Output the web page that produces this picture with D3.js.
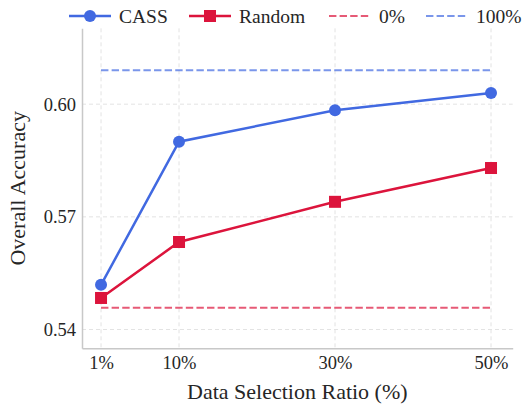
<!DOCTYPE html>
<html>
<head>
<meta charset="utf-8">
<script src="https://cdn.jsdelivr.net/npm/d3@7"></script>
<style>
  body { margin: 0; background: #fff; }
</style>
</head>
<body>
<script>
var ratioLabels = ["1%", "10%", "30%", "50%"];
var ratioPos = [0, 1, 3, 5];
var cassAcc = [0.5519, 0.5900, 0.5984, 0.6030];
var randomAcc = [0.5484, 0.5633, 0.5740, 0.5830];
var baseline0 = 0.5458;
var baseline100 = 0.6090;
var yTicks = [0.54, 0.57, 0.60];

var serif = "'Liberation Serif', 'Times New Roman', Times, serif";
var width = 524, height = 407;
var svg = d3.select("body").append("svg")
    .attr("width", width)
    .attr("height", height)
    .style("font-family", serif);

var x = d3.scaleLinear().domain([-0.244, 5.278]).range([82, 512.7]);
var y = d3.scaleLinear().domain([0.535, 0.6202]).range([348.3, 28.3]);

// grid
svg.append("g").selectAll("line.vg")
    .data(ratioPos).enter().append("line")
    .attr("x1", function (d) { return x(d); })
    .attr("x2", function (d) { return x(d); })
    .attr("y1", y.range()[1])
    .attr("y2", y.range()[0])
    .attr("stroke", "#e3e3e3")
    .attr("stroke-width", 1)
    .attr("stroke-dasharray", "4,3");

svg.append("g").selectAll("line.hg")
    .data(yTicks).enter().append("line")
    .attr("x1", x.range()[0])
    .attr("x2", x.range()[1])
    .attr("y1", function (d) { return y(d); })
    .attr("y2", function (d) { return y(d); })
    .attr("stroke", "#e3e3e3")
    .attr("stroke-width", 1)
    .attr("stroke-dasharray", "4,3");

// axes
var xAxis = svg.append("g")
    .attr("transform", "translate(0," + y.range()[0] + ")")
    .call(d3.axisBottom(x).tickValues(ratioPos)
        .tickFormat(function (d, i) { return ratioLabels[i]; })
        .tickSize(0).tickPadding(8));
var yAxis = svg.append("g")
    .attr("transform", "translate(" + x.range()[0] + ",0)")
    .call(d3.axisLeft(y).tickValues(yTicks)
        .tickFormat(d3.format(".2f"))
        .tickSize(0).tickPadding(6));

[xAxis, yAxis].forEach(function (a) {
  a.attr("font-family", null).attr("font-size", null);
  a.select(".domain").attr("stroke", "#c8c8c8").attr("stroke-width", 1.5);
  a.selectAll("text")
    .style("font-family", serif)
    .style("font-size", "18.5px")
    .attr("fill", "#262626");
});
xAxis.selectAll("text").attr("dy", "0.71em");

svg.append("text")
    .attr("x", (x.range()[0] + x.range()[1]) / 2)
    .attr("y", 399)
    .attr("text-anchor", "middle")
    .attr("fill", "#262626")
    .style("font-family", serif)
    .style("font-size", "22px")
    .text("Data Selection Ratio (%)");

svg.append("text")
    .attr("transform", "translate(25," + (y.range()[0] + y.range()[1]) / 2 + ") rotate(-90)")
    .attr("text-anchor", "middle")
    .attr("fill", "#262626")
    .style("font-family", serif)
    .style("font-size", "22px")
    .text("Overall Accuracy");

// baselines
var x0 = x(ratioPos[0]), x1 = x(ratioPos[ratioPos.length - 1]);
svg.append("line")
    .attr("x1", x0).attr("x2", x1)
    .attr("y1", y(baseline100)).attr("y2", y(baseline100))
    .attr("stroke", "#4169e1").attr("stroke-opacity", 0.7)
    .attr("stroke-width", 2).attr("stroke-dasharray", "7.4,3.2");
svg.append("line")
    .attr("x1", x0).attr("x2", x1)
    .attr("y1", y(baseline0)).attr("y2", y(baseline0))
    .attr("stroke", "#dc143c").attr("stroke-opacity", 0.7)
    .attr("stroke-width", 2).attr("stroke-dasharray", "7.4,3.2");

var line = d3.line()
    .x(function (d, i) { return x(ratioPos[i]); })
    .y(function (d) { return y(d); });

svg.append("path")
    .datum(cassAcc)
    .attr("d", line)
    .attr("fill", "none")
    .attr("stroke", "#4169e1")
    .attr("stroke-width", 2.5);
svg.append("g").selectAll("circle")
    .data(cassAcc).enter().append("circle")
    .attr("cx", function (d, i) { return x(ratioPos[i]); })
    .attr("cy", function (d) { return y(d); })
    .attr("r", 6)
    .attr("fill", "#4169e1");

svg.append("path")
    .datum(randomAcc)
    .attr("d", line)
    .attr("fill", "none")
    .attr("stroke", "#dc143c")
    .attr("stroke-width", 2.5);
svg.append("g").selectAll("rect")
    .data(randomAcc).enter().append("rect")
    .attr("x", function (d, i) { return x(ratioPos[i]) - 6; })
    .attr("y", function (d) { return y(d) - 6; })
    .attr("width", 12)
    .attr("height", 12)
    .attr("fill", "#dc143c");

// legend
var legendY = 16;
var legendItems = [
  { label: "CASS", x: 69, color: "#4169e1", marker: "circle", dash: null, op: 1 },
  { label: "Random", x: 189, color: "#dc143c", marker: "square", dash: null, op: 1 },
  { label: "0%", x: 329, color: "#dc143c", marker: null, dash: "7.4,3.2", op: 0.7 },
  { label: "100%", x: 426, color: "#4169e1", marker: null, dash: "7.4,3.2", op: 0.7 }
];
var lg = svg.append("g").selectAll("g")
    .data(legendItems).enter().append("g")
    .attr("transform", function (d) { return "translate(" + d.x + "," + legendY + ")"; });
lg.append("line")
    .attr("x1", 0).attr("x2", 42)
    .attr("stroke", function (d) { return d.color; })
    .attr("stroke-opacity", function (d) { return d.op; })
    .attr("stroke-width", function (d) { return d.dash ? 2 : 2.5; })
    .attr("stroke-dasharray", function (d) { return d.dash; });
lg.filter(function (d) { return d.marker === "circle"; })
    .append("circle").attr("cx", 21).attr("r", 6)
    .attr("fill", function (d) { return d.color; });
lg.filter(function (d) { return d.marker === "square"; })
    .append("rect").attr("x", 15).attr("y", -6).attr("width", 12).attr("height", 12)
    .attr("fill", function (d) { return d.color; });
lg.append("text")
    .attr("x", 50)
    .attr("dy", "0.35em")
    .attr("fill", "#262626")
    .style("font-family", serif)
    .style("font-size", "19.5px")
    .text(function (d) { return d.label; });
</script>
</body>
</html>
